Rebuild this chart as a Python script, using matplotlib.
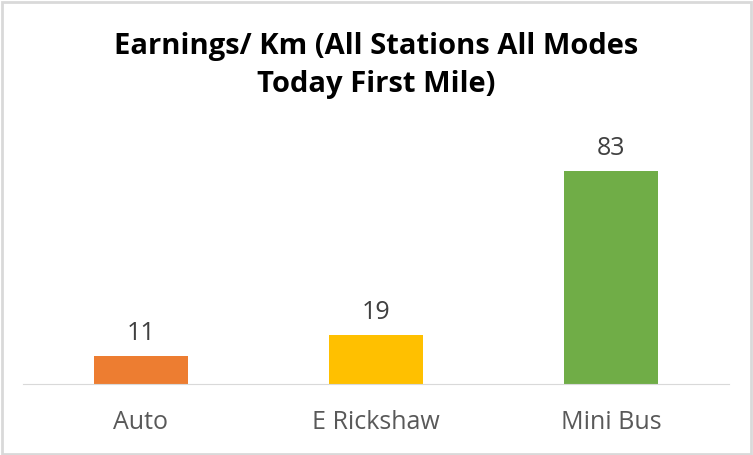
import matplotlib.pyplot as plt
from matplotlib.patches import Rectangle

plt.rcParams['font.family'] = ['Open Sans', 'DejaVu Sans']

modes = ['Auto', 'E Rickshaw', 'Mini Bus']
earnings = [11, 19, 83]
colors = ['#ED7D31', '#FFC000', '#70AD47']

fig = plt.figure(figsize=(7.53, 4.55), dpi=100)
ax = fig.add_axes([0.0312, 0.156, 0.9363, 0.5077])

bars = ax.bar(modes, earnings, width=0.4, color=colors)
for b, v in zip(bars, earnings):
    ax.text(b.get_x() + b.get_width() / 2, v + 4.0, str(v), ha='center', va='bottom',
            fontsize=18, color='#404040')

ax.set_xlim(-0.5, 2.5)
ax.set_ylim(0, 90)
ax.set_yticks([])
for s in ['top', 'right', 'left']:
    ax.spines[s].set_visible(False)
ax.spines['bottom'].set_color('#D9D9D9')
ax.tick_params(axis='x', length=0, pad=19, labelsize=18, labelcolor='#595959')

fig.text(0.5, 0.856, 'Earnings/ Km (All Stations All Modes\nToday First Mile)',
         ha='center', va='center', fontsize=21, fontweight='bold', linespacing=1.38)

fig.patches.append(Rectangle((0.002, 0.003), 0.995, 0.993, transform=fig.transFigure,
                             fill=False, edgecolor='#D9D9D9', linewidth=2))

fig.savefig('out.png', dpi=100)
